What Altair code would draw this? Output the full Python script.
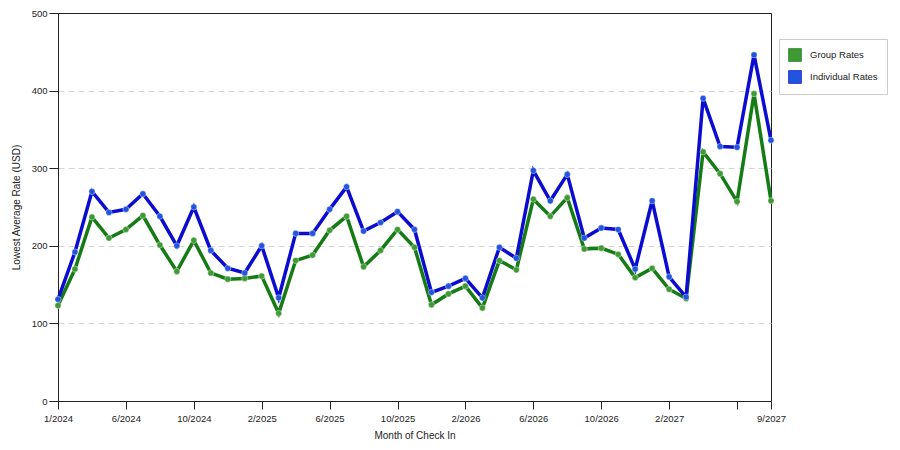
import altair as alt
import pandas as pd

# one point per check-in month (43 months shown on the axis)
month_index = list(range(43))

group_rates = [
    123, 170, 237, 210, 221, 239, 201, 167, 207, 165,
    157, 158, 161, 113, 181, 188, 220, 238, 173, 194,
    221, 198, 124, 138, 148, 120, 181, 169, 260, 238,
    262, 196, 197, 189, 159, 171, 144, 132, 321, 293,
    257, 396, 258,
]
individual_rates = [
    131, 192, 270, 243, 247, 267, 238, 200, 250, 194,
    171, 165, 200, 133, 216, 216, 247, 276, 219, 230,
    244, 221, 140, 148, 158, 133, 198, 184, 297, 258,
    292, 210, 223, 221, 170, 258, 160, 134, 390, 328,
    327, 446, 336,
]

tick_positions = [0, 4, 8, 12, 16, 20, 24, 28, 32, 36, 40, 42]
tick_labels = ["1/2024", "6/2024", "10/2024", "2/2025", "6/2025", "10/2025",
               "2/2026", "6/2026", "10/2026", "2/2027", "", "9/2027"]

series_names = ["Group Rates", "Individual Rates"]
line_colors = ["#157c15", "#0c0cd0"]
point_colors = ["#3f9a35", "#2255dd"]

df = pd.concat([
    pd.DataFrame({"idx": month_index, "rate": group_rates, "series": series_names[0]}),
    pd.DataFrame({"idx": month_index, "rate": individual_rates, "series": series_names[1]}),
])

label_expr = "[{}][indexof([{}], datum.value)]".format(
    ",".join("'%s'" % t for t in tick_labels),
    ",".join(str(p) for p in tick_positions),
)

base = alt.Chart(df).encode(
    x=alt.X(
        "idx:Q",
        title="Month of Check In",
        scale=alt.Scale(domain=[0, 42], nice=False, zero=False),
        axis=alt.Axis(values=tick_positions, labelExpr=label_expr, grid=False,
                      labelFlush=False, tickSize=8, labelPadding=4, titlePadding=8),
    ),
    y=alt.Y(
        "rate:Q",
        title="Lowest Average Rate (USD)",
        scale=alt.Scale(domain=[0, 500], nice=False),
        axis=alt.Axis(values=[0, 100, 200, 300, 400, 500], grid=True,
                      gridDash=[6, 4], gridColor="#d4d4d4",
                      gridOpacity=alt.condition("datum.value >= 500", alt.value(0), alt.value(1)),
                      labelFlush=False, tickSize=9, labelPadding=2, titlePadding=10),
    ),
)

lines = base.mark_line(strokeWidth=3.5).encode(
    color=alt.Color(
        "series:N",
        scale=alt.Scale(domain=series_names, range=line_colors),
        legend=alt.Legend(
            title=None, orient="none", legendX=721, legendY=26,
            symbolType="square", symbolSize=165, symbolStrokeColor="#333",
            symbolStrokeWidth=0.7, labelFontSize=9.5, labelOffset=8,
            rowPadding=6, padding=9, strokeColor="#cccccc", fillColor="white",
        ),
    )
)

points = base.mark_circle(size=38, opacity=1, stroke="white", strokeWidth=0.4).encode(
    fill=alt.Fill("series:N", scale=alt.Scale(domain=series_names, range=point_colors), legend=None),
)

chart = (
    alt.layer(lines, points)
    .properties(width=713, height=388, autosize=alt.AutoSizeParams(type="none"),
                padding={"left": 50, "top": 5, "right": 120, "bottom": 41})
    .configure_view(stroke="#222", strokeWidth=1)
    .configure_axis(labelFont="Liberation Sans", titleFont="Liberation Sans",
                    labelFontSize=9.5, titleFontSize=10, titleFontWeight="normal",
                    labelColor="#222", titleColor="#222", domainColor="#222",
                    tickColor="#222")
    .configure_legend(labelFont="Liberation Sans", labelColor="#222")
)

chart.save("out.html", embed_options={"renderer": "svg", "actions": False})
